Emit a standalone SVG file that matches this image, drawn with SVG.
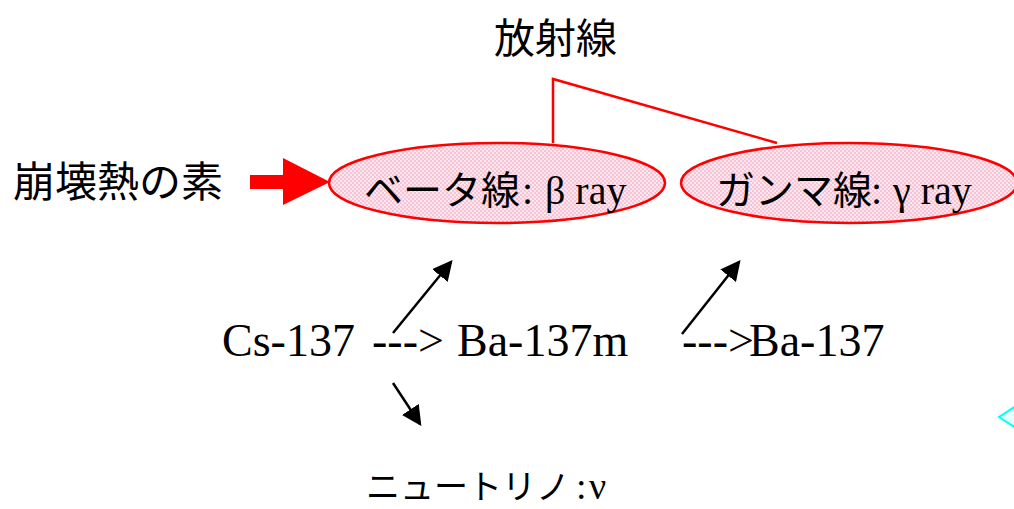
<svg xmlns="http://www.w3.org/2000/svg" width="1014" height="509" viewBox="0 0 1014 509">
<style>
.jp{font-family:"Noto Sans CJK JP","Noto Sans",sans-serif;fill:#000}
.sr{font-family:"Liberation Serif",serif;fill:#000}
.ell{fill:url(#dots);stroke:#f00;stroke-width:2.5}
.red{fill:none;stroke:#f00;stroke-width:2.5}
.blk{fill:none;stroke:#000;stroke-width:2.5;marker-end:url(#ah)}
</style>
<defs>
<pattern id="dots" width="4" height="4" patternUnits="userSpaceOnUse">
<rect width="4" height="4" fill="#f9c3d6"/>
<rect x="0" y="0" width="2" height="2" fill="#fde6ee"/>
<rect x="2" y="2" width="2" height="2" fill="#fde6ee"/>
</pattern>
<marker id="ah" markerWidth="8" markerHeight="8" refX="7" refY="4" orient="auto" markerUnits="strokeWidth">
<path d="M0,0 L8,4 L0,8 Z" fill="#000"/>
</marker>
</defs>
<g id="title"><text class="jp" x="494" y="53" font-size="41">放射線</text></g>
<g id="source">
<text class="jp" x="13" y="197" font-size="42">崩壊熱の素</text>
<path d="M250,175 H283 V158 L330,182 L283,205 V189 H250 Z" fill="#f00"/>
</g>
<g id="beta">
<ellipse class="ell" cx="497" cy="183" rx="168" ry="40"/>
<text class="jp" x="364" y="204" font-size="39">ベータ線</text>
<text class="sr" x="522" y="204" font-size="40">:</text>
<text class="sr" x="545" y="204" font-size="40">β ray</text>
</g>
<g id="gamma">
<ellipse class="ell" cx="849" cy="183" rx="168" ry="40"/>
<text class="jp" x="716" y="204" font-size="39">ガンマ線</text>
<text class="sr" x="871" y="204" font-size="40">:</text>
<text class="sr" x="893" y="204" font-size="40">γ ray</text>
</g>
<g id="chain" class="sr" font-size="46">
<text class="sr" x="222" y="356">Cs-137</text>
<text class="sr" x="372" y="356">---&gt;</text>
<text class="sr" x="457" y="356">Ba-137m</text>
<text class="sr" x="682" y="356">---&gt;</text>
<text class="sr" x="749" y="356">Ba-137</text>
</g>
<g id="neutrino">
<text class="jp" x="366" y="499" font-size="34">ニュートリノ</text>
<text class="sr" x="576" y="499" font-size="38">:</text>
<text class="sr" x="589" y="499" font-size="38">ν</text>
</g>
<g id="connectors">
<polyline class="red" points="553,143 553,79 777,143"/>
<line class="blk" x1="393" y1="333" x2="451" y2="262"/>
<line class="blk" x1="393" y1="383" x2="420" y2="424"/>
<line class="blk" x1="682" y1="334" x2="739" y2="262"/>
</g>
<polygon points="1016,406 999,417 1016,428" fill="#e6ffff" stroke="#0ff" stroke-width="2"/>
</svg>
